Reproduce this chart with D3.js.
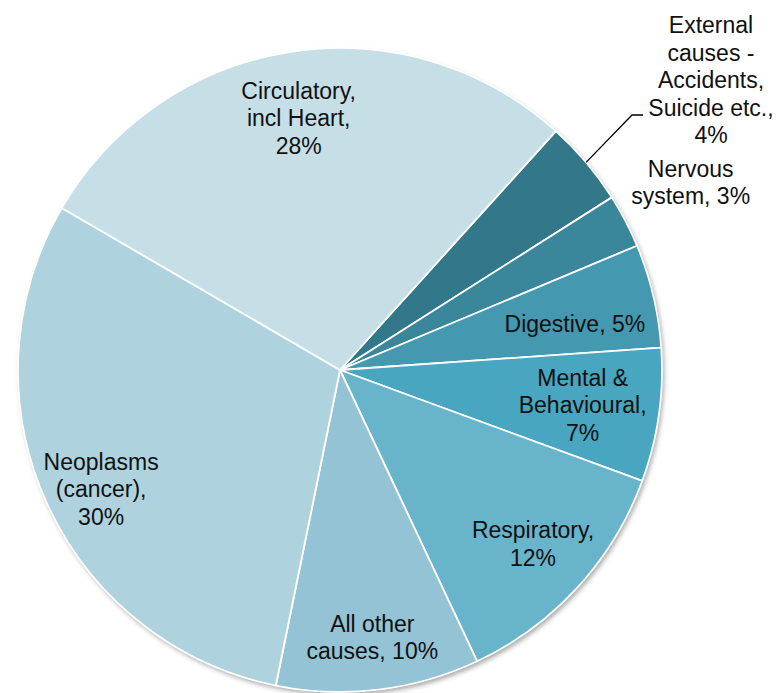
<!DOCTYPE html>
<html>
<head>
<meta charset="utf-8">
<script src="https://cdn.jsdelivr.net/npm/d3@7/dist/d3.min.js"></script>
<style>
  html, body { margin: 0; padding: 0; background: #ffffff; }
  svg { display: block; }
  text { font-family: "Liberation Sans", Arial, sans-serif; fill: #111; }
</style>
</head>
<body>
<svg id="chart" width="776" height="693"></svg>
<script>
// Causes of death, share of all deaths (%), clockwise from the first slice
const causes = [
  "External causes - Accidents, Suicide etc.",
  "Nervous system",
  "Digestive",
  "Mental & Behavioural",
  "Respiratory",
  "All other causes",
  "Neoplasms (cancer)",
  "Circulatory, incl Heart"
];
const shares = [4.3, 2.7, 5.2, 6.7, 12.4, 10.2, 30.2, 28.3];

// Label text lines (the percentage is appended from the share)
const labelLines = [
  ["External", "causes -", "Accidents,", "Suicide etc.,"],
  ["Nervous", "system,"],
  ["Digestive,"],
  ["Mental &", "Behavioural,"],
  ["Respiratory,"],
  ["All other", "causes,"],
  ["Neoplasms", "(cancer),"],
  ["Circulatory,", "incl Heart,"]
];
// Whether the percentage goes on its own line or follows the last text line
const pctOwnLine = [true, false, false, true, true, false, true, true];

const sliceColors = ["#33788a", "#3a879c", "#4498b0", "#48a6c0", "#68b4cb", "#93c3d5", "#aed2de", "#c6dfe7"];

const width = 776, height = 693;
const cx = 340, cy = 370, radius = 322;
const startDeg = 42.1;
const lineHeight = 27.5;

const svg = d3.select("#chart");

const defs = svg.append("defs");
const shadow = defs.append("filter").attr("id", "pieShadow")
  .attr("x", "-10%").attr("y", "-10%").attr("width", "120%").attr("height", "120%");
shadow.append("feDropShadow")
  .attr("dx", 2).attr("dy", 3).attr("stdDeviation", 2.5)
  .attr("flood-color", "#000").attr("flood-opacity", 0.35);

const data = causes.map((c, i) => ({ cause: c, share: shares[i], i }));

const pie = d3.pie()
  .value(d => d.share)
  .sort(null)
  .startAngle(startDeg * Math.PI / 180)
  .endAngle(startDeg * Math.PI / 180 + 2 * Math.PI);

const arcs = pie(data);
const arc = d3.arc().innerRadius(0).outerRadius(radius);

const g = svg.append("g").attr("transform", `translate(${cx},${cy})`);

// Shadow disc underneath the slices
g.append("circle").attr("r", radius).attr("fill", "#ffffff").attr("filter", "url(#pieShadow)");

g.selectAll("path.slice")
  .data(arcs)
  .join("path")
  .attr("class", "slice")
  .attr("d", arc)
  .attr("fill", d => sliceColors[d.data.i])
  .attr("stroke", "#ffffff")
  .attr("stroke-width", 1.8)
  .attr("stroke-linejoin", "round");

// Label placement: distance from centre as a fraction of the radius, plus small nudges
const labelRadius = [null, 1.26, 0.74, 0.78, 0.80, 0.84, 0.83, 0.795];
const labelNudge = [[0, 0], [-9, 0], [3, 9], [-6, 0], [3, 0], [0, -1], [5, 10], [-2, 1]];
const externalLabelAt = [711, 25];

function pointAt(angle, r) {
  return [Math.sin(angle) * r, -Math.cos(angle) * r];
}

arcs.forEach(a => {
  const i = a.data.i;
  const pct = Math.round(a.data.share) + "%";
  let lines = labelLines[i].slice();
  if (pctOwnLine[i]) lines.push(pct);
  else lines[lines.length - 1] = lines[lines.length - 1] + " " + pct;

  const mid = (a.startAngle + a.endAngle) / 2;
  let x, yTop;
  if (labelRadius[i] === null) {
    x = externalLabelAt[0] - cx;
    yTop = externalLabelAt[1] - cy;
    // leader line from the slice edge to the label
    const p0 = pointAt(mid, radius);
    g.append("polyline")
      .attr("points", [p0, [632 - cx, 115 - cy], [643 - cx, 115 - cy]].map(p => p.join(",")).join(" "))
      .attr("fill", "none").attr("stroke", "#000").attr("stroke-width", 1.3);
  } else {
    const p = pointAt(mid, radius * labelRadius[i]);
    x = p[0] + labelNudge[i][0];
    const yc = p[1] + labelNudge[i][1];
    yTop = yc - (lines.length - 1) * lineHeight / 2;
  }
  const t = g.append("text")
    .attr("text-anchor", "middle")
    .attr("font-size", 23);
  lines.forEach((ln, k) => {
    t.append("tspan")
      .attr("x", x)
      .attr("y", yTop + k * lineHeight)
      .attr("dy", "0.35em")
      .text(ln);
  });
});
</script>
</body>
</html>
